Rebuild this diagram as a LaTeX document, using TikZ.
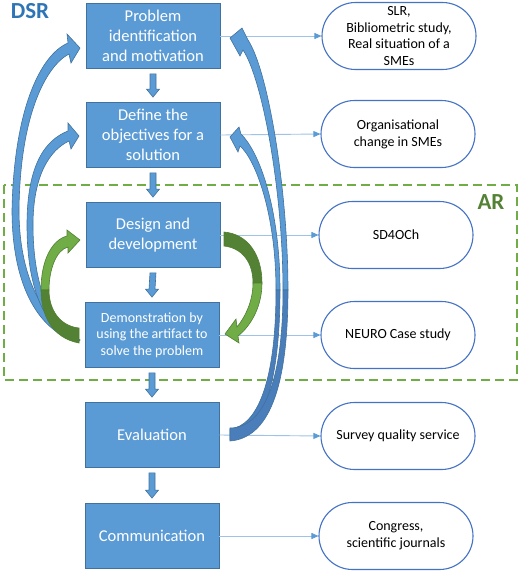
\documentclass[tikz,border=0pt]{standalone}
\usepackage{fontspec}
\setmainfont{Carlito}
\usepackage{tikz}
\usetikzlibrary{arrows.meta,calc,shapes.misc}

\definecolor{boxblue}{HTML}{5B9BD5}
\definecolor{boxline}{HTML}{41719C}
\definecolor{ovalline}{HTML}{4472C4}
\definecolor{connblue}{HTML}{9DC3E6}
\definecolor{darkblue}{HTML}{4A7EBB}
\definecolor{lightgreen}{HTML}{70AD47}
\definecolor{darkgreen}{HTML}{548235}
\definecolor{greenline}{HTML}{507E32}
\definecolor{dsrblue}{HTML}{2E75B6}

\tikzset{
  stepbox/.style={rectangle, fill=boxblue, draw=boxline, line width=0.8pt,
    minimum width=134pt, minimum height=65pt, inner sep=2pt,
    text=white, align=center, font=\fontsize{16.5}{20}\selectfont},
  outbox/.style={rounded rectangle, fill=white, draw=ovalline, line width=1.1pt,
    minimum width=162pt, minimum height=67pt, inner xsep=4pt, inner ysep=0pt,
    align=center, font=\fontsize{14}{16.7}\selectfont},
  conn/.style={connblue, line width=0.9pt,
    -{Triangle[length=7pt,width=6pt,color=boxblue]}},
  downarr/.style={fill=boxblue, draw=boxline, line width=0.6pt},
  bluearr/.style={fill=boxblue, draw=boxline, line width=0.6pt},
  darkbluearr/.style={fill=darkblue, draw=boxline, line width=0.6pt},
  greenarr/.style={fill=lightgreen, draw=greenline, line width=0.6pt},
  darkgreenarr/.style={fill=darkgreen, draw=greenline, line width=0.6pt},
  biglabel/.style={font=\fontsize{23}{23}\selectfont\bfseries}
}

\begin{document}
\begin{tikzpicture}[x=1pt,y=-1pt]
  \useasboundingbox (0,0) rectangle (520,571);

  % Action research frame
  \draw[lightgreen, line width=1.5pt, dash pattern=on 9pt off 5pt] (4,185) rectangle (517,380);
  \node[biglabel, text=dsrblue] (dsr) at (30,11) {DSR};
  \node[biglabel, text=darkgreen] (ar) at (491,202) {AR};

  % DSR steps
  \node[stepbox] (p1) at (153,36) {Problem\\identification\\and motivation};
  \node[stepbox] (p2) at (153,135) {Define the\\objectives for a\\solution};
  \node[stepbox] (p3) at (153,235) {Design and\\development};
  \node[stepbox, font=\fontsize{14}{16.7}\selectfont] (p4) at (152,335) {Demonstration by\\using the artifact to\\solve the problem};
  \node[stepbox] (p5) at (152,435) {Evaluation};
  \node[stepbox] (p6) at (152,536) {Communication};

  % Outputs of each step
  \node[outbox] (o1) at (399,36) {SLR,\\Bibliometric study,\\Real situation of a\\SMEs};
  \node[outbox] (o2) at (398,134) {Organisational\\change in SMEs};
  \node[outbox] (o3) at (396,235) {SD4OCh};
  \node[outbox] (o4) at (398,335) {NEURO Case study};
  \node[outbox] (o5) at (398,436) {Survey quality service};
  \node[outbox] (o6) at (396,536) {Congress,\\scientific journals};

  % Connectors to the outputs
  \foreach \i in {1,...,6}
    \draw[conn] (p\i.east) -- (o\i.west);

  % Block arrows between steps
  \foreach \a/\b in {p1/p2,p2/p3,p3/p4,p4/p5,p5/p6}{
    \path ($(\a.south)+(0,5)$) coordinate (s) ($(\b.north)+(0,-5)$) coordinate (e);
    \filldraw[downarr] ($(s)+(-3,0)$) -- ($(e)+(-3,-8)$) -- ($(e)+(-6.5,-8)$) -- (e)
      -- ($(e)+(6.5,-8)$) -- ($(e)+(3,-8)$) -- ($(s)+(3,0)$) -- cycle;
  }

  % Iteration back to problem identification (left)
  \filldraw[bluearr] (78,342) .. controls (35,330) and (12,280) .. (12,210)
    .. controls (14,110) and (40,55) .. (68,43)
    -- (67,34) -- (80,48) -- (71,63) -- (69,54)
    .. controls (46,66) and (20,115) .. (19,210)
    .. controls (19,275) and (42,322) .. (80,340) -- cycle;
  % Iteration back to objectives (left)
  \filldraw[bluearr] (78,342) .. controls (45,330) and (27,290) .. (27,225)
    .. controls (27,165) and (45,140) .. (68,131)
    -- (68,123) -- (79,136) -- (71,149) -- (69,141)
    .. controls (50,150) and (33,175) .. (33,225)
    .. controls (33,285) and (50,328) .. (80,340) -- cycle;

  % AR cycle: demonstration back to design
  \filldraw[greenarr] (41,290) .. controls (41,260) and (52,240) .. (67,236)
    -- (67,230) -- (80,240) -- (68,253) -- (68,247)
    .. controls (56,250) and (49,270) .. (49,290) -- cycle;
  \filldraw[darkgreenarr] (41,290) .. controls (41,315) and (52,338) .. (79,343)
    -- (79,328) .. controls (60,326) and (49,310) .. (49,290) -- cycle;
  % AR cycle: design to demonstration
  \filldraw[darkgreenarr] (224,232) .. controls (248,234) and (262,255) .. (262,283)
    -- (253,283) .. controls (253,262) and (242,248) .. (224,246) -- cycle;
  \filldraw[greenarr] (262,283) .. controls (262,305) and (252,325) .. (238,336)
    -- (239,343) -- (225,334) -- (236,319) -- (237,327)
    .. controls (246,316) and (253,300) .. (253,283) -- cycle;

  % Evaluation back to objectives (right)
  \filldraw[bluearr] (280,290) .. controls (280,215) and (262,155) .. (241,134)
    -- (239,127) -- (230,137) -- (238,152) -- (240,146)
    .. controls (256,160) and (276,215) .. (276,290) -- cycle;
  \filldraw[darkbluearr] (276,290) .. controls (276,380) and (258,426) .. (230,429)
    -- (230,440) .. controls (262,436) and (280,385) .. (280,290) -- cycle;
  % Evaluation back to problem identification (right)
  \filldraw[bluearr] (288,290) .. controls (288,190) and (268,70) .. (248,40)
    -- (242,28) -- (230,38) -- (240,56) -- (243,50)
    .. controls (262,78) and (283,190) .. (283,290) -- cycle;
  \filldraw[darkbluearr] (283,290) .. controls (283,385) and (262,428) .. (230,428)
    -- (230,441) .. controls (268,438) and (288,390) .. (288,290) -- cycle;
\end{tikzpicture}
\end{document}
